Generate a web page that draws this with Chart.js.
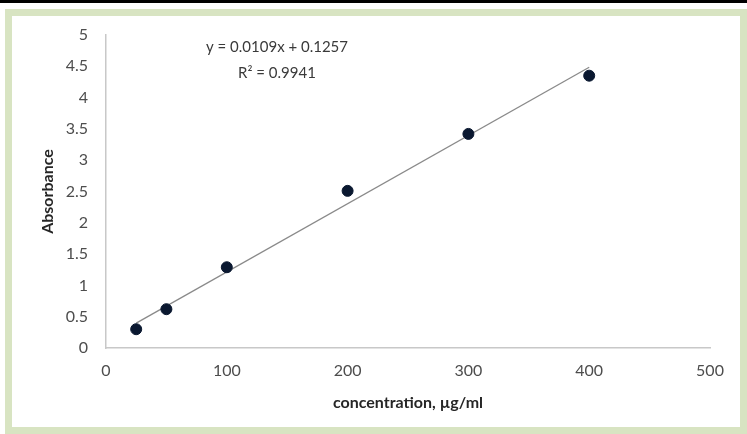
<!DOCTYPE html>
<html>
<head>
<meta charset="utf-8">
<script src="https://cdn.jsdelivr.net/npm/chart.js@4.4.1/dist/chart.umd.min.js"></script>
<style>
  html, body { margin: 0; padding: 0; background: #fff; }
  body { width: 747px; height: 434px; position: relative; overflow: hidden; }
  #topRule { position: absolute; left: 0; top: 0; width: 747px; height: 3px; background: #000; }
  #frame { position: absolute; left: 5px; top: 9px; width: 742px; height: 425px;
           border: 7px solid #d8e4c2; box-sizing: border-box; }
  #calibChart { position: absolute; left: 0; top: 0; }
</style>
</head>
<body>
<div id="topRule"></div>
<div id="frame"></div>
<canvas id="calibChart" width="747" height="434"></canvas>
<script>
// Courbe d'étalonnage : absorbance en fonction de la concentration
const concentrations = [25, 50, 100, 200, 300, 400];
const absorbances = [0.30, 0.62, 1.29, 2.51, 3.42, 4.35];
const xTicks = [0, 100, 200, 300, 400, 500];
const yTicks = [0, 0.5, 1, 1.5, 2, 2.5, 3, 3.5, 4, 4.5, 5];

// Régression linéaire affichée sur le graphique
const slope = 0.0109;
const intercept = 0.1257;
const r2 = 0.9941;

const fontFamily = "Lato, 'Open Sans', sans-serif";
const trendPoints = [concentrations[0], concentrations[concentrations.length - 1]]
    .map(x => ({ x: x, y: slope * x + intercept }));

// Texte de l'équation au-dessus de la droite
const equationLabel = {
    id: 'equationLabel',
    afterDraw(chart) {
        const ctx = chart.ctx;
        ctx.save();
        ctx.fillStyle = '#3a3a3a';
        ctx.font = "15px " + fontFamily;
        ctx.textAlign = 'center';
        ctx.textBaseline = 'middle';
        ctx.fillText('y = ' + slope + 'x + ' + intercept, 277, 47);
        ctx.fillText('R² = ' + r2, 277, 73);
        ctx.restore();
    }
};

new Chart(document.getElementById('calibChart').getContext('2d'), {
    type: 'scatter',
    data: {
        datasets: [
            {
                label: 'Absorbance',
                data: concentrations.map((c, i) => ({ x: c, y: absorbances[i] })),
                backgroundColor: '#0a1830',
                borderColor: '#0a1830',
                pointRadius: 5.5,
                order: 1
            },
            {
                type: 'line',
                label: 'Tendance',
                data: trendPoints,
                borderColor: '#8a8a8a',
                borderWidth: 1.3,
                pointRadius: 0,
                fill: false,
                order: 2
            }
        ]
    },
    options: {
        responsive: false,
        animation: false,
        events: [],
        layout: { padding: { left: 34, top: 35, right: 37, bottom: 18 } },
        plugins: { legend: { display: false }, tooltip: { enabled: false } },
        scales: {
            x: {
                type: 'linear',
                min: 0, max: 500,
                afterBuildTicks: axis => { axis.ticks = xTicks.map(v => ({ value: v })); },
                afterFit: axis => { axis.height = 68; },
                grid: { display: false, drawTicks: false },
                border: { color: '#c8c8c8', width: 1.5 },
                ticks: {
                    color: '#4d4d4d', padding: 13, autoSkip: false, maxRotation: 0,
                    callback: v => String(v),
                    font: { family: fontFamily, size: 16 }
                },
                title: {
                    display: true,
                    text: 'concentration, µg/ml',
                    color: '#262626',
                    padding: { top: 6 },
                    font: { family: fontFamily, size: 16, weight: 'bold' }
                }
            },
            y: {
                min: 0, max: 5,
                afterBuildTicks: axis => { axis.ticks = yTicks.map(v => ({ value: v })); },
                afterFit: axis => { axis.width = 72; },
                grid: { display: false, drawTicks: false },
                border: { color: '#c8c8c8', width: 1.5 },
                ticks: {
                    color: '#4d4d4d', padding: 18, autoSkip: false,
                    callback: v => String(v),
                    font: { family: fontFamily, size: 16 }
                },
                title: {
                    display: true,
                    text: 'Absorbance',
                    color: '#262626',
                    padding: { bottom: 0 },
                    font: { family: fontFamily, size: 16, weight: 'bold' }
                }
            }
        }
    },
    plugins: [equationLabel]
});
</script>
</body>
</html>
